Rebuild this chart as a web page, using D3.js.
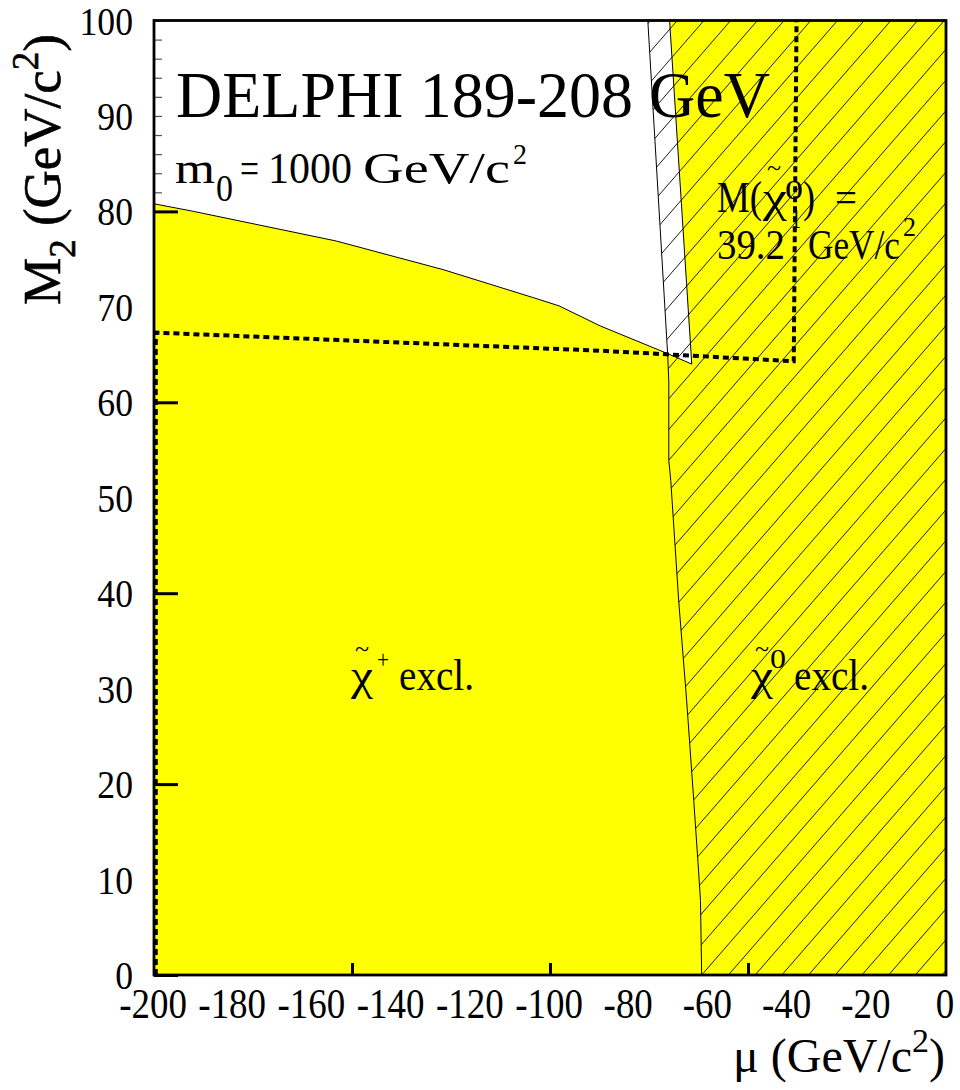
<!DOCTYPE html>
<html><head><meta charset="utf-8">
<script src="https://cdn.jsdelivr.net/npm/d3@7"></script>
<style>html,body{margin:0;padding:0;background:#fff}</style>
</head><body><svg id="c" width="960" height="1090"></svg>
<script>
// ---- data ----
const xTickValues = [-200,-180,-160,-140,-120,-100,-80,-60,-40,-20,0];
const yTickValues = [0,10,20,30,40,50,60,70,80,90,100];
const xMajorTicks = [-150,-100,-50];
const yMajorTicks = [0,20,40,60,80];
const yMinorTicks = d3.range(0,101,2);
// chargino exclusion boundary (mu, M2)
const charginoCurve = [[-200,80.8],[-190,80.0],[-154,76.9],[-127,73.9],[-104.5,71.0],[-97.7,70.1],[-87.3,68.0],[-70.3,65.1]];
const charginoStrip = [[-64.2,64.0],[-69.8,100]];
// neutralino exclusion boundary (mu, M2)
const neutralinoEdge = [[-75.3,100],[-70.3,65.1],[-70.0,62.2],[-70.0,53.9],[-69.5,51.8],[-67.5,39.2],[-65.5,28.8],[-63.7,18.3],[-62.5,11],[-62.0,7.8],[-61.7,0]];
// M(chi0_1) = 39.2 GeV/c2 contour
const massContour = [[-200,0],[-200,67.3],[-87.5,65.4],[-38.9,64.3],[-38.2,100]];

// ---- scales ----
const x = d3.scaleLinear().domain([-200,0]).range([154,946]);
const y = d3.scaleLinear().domain([0,100]).range([975,20.5]);
const svg = d3.select('#c');
const FONT = 'Liberation Serif, Times New Roman, serif';
const line = d3.line().x(d=>x(d[0])).y(d=>y(d[1]));

// minor ticks (under fills)
svg.append('g').attr('transform',`translate(${x(-200)},0)`)
  .call(d3.axisRight(y).tickValues(yMinorTicks).tickSize(8).tickFormat(''))
  .call(g=>{g.select('.domain').remove(); g.selectAll('line').attr('stroke','#555').attr('stroke-width',1.2);});

// chargino excluded region
const charPoly = [[-200,0]].concat(charginoCurve, charginoStrip, [[0,100],[0,0]]);
svg.append('path').attr('d', line(charPoly)+'Z').attr('fill','#ffff00');

// neutralino excluded region hatch
const neuPoly = neutralinoEdge.concat([[0,0],[0,100]]);
svg.append('clipPath').attr('id','neu').append('path').attr('d', line(neuPoly)+'Z');
const hatchSpacing = 26.7, tanA = 1.15, H = 1000;
const hx0 = d3.range(0,70).map(k=>942 - k*hatchSpacing);
svg.append('g').attr('clip-path','url(#neu)').selectAll('line').data(hx0).join('line')
  .attr('x1',d=>d).attr('y1',y(0)).attr('x2',d=>d+H/tanA).attr('y2',y(0)-H)
  .attr('stroke','#000').attr('stroke-width',0.9);

// boundary lines
svg.append('path').attr('d', line(charginoCurve.concat(charginoStrip))).attr('fill','none').attr('stroke','#000').attr('stroke-width',1);
svg.append('path').attr('d', line(neutralinoEdge)).attr('fill','none').attr('stroke','#000').attr('stroke-width',1);

// dashed mass contour
svg.append('path').attr('d', line(massContour)).attr('transform','translate(1.8,0)')
  .attr('fill','none').attr('stroke','#000').attr('stroke-width',4).attr('stroke-dasharray','6,4');

// major ticks
svg.append('g').attr('transform',`translate(${x(-200)},0)`)
  .call(d3.axisRight(y).tickValues(yMajorTicks).tickSize(24).tickFormat(''))
  .call(g=>{g.select('.domain').remove(); g.selectAll('line').attr('stroke','#000').attr('stroke-width',3);});
svg.append('g').attr('transform',`translate(0,${y(0)})`)
  .call(d3.axisTop(x).tickValues(xMajorTicks).tickSize(12).tickFormat(''))
  .call(g=>{g.select('.domain').remove(); g.selectAll('line').attr('stroke','#000').attr('stroke-width',3);});

// frame
svg.append('rect').attr('x',x(-200)).attr('y',y(100)).attr('width',x(0)-x(-200)).attr('height',y(0)-y(100))
  .attr('fill','none').attr('stroke','#000').attr('stroke-width',2.8);

// ---- text helper ----
function txt(px,py,str,size,opts={}){
  const sx = opts.sx||1;
  const t = svg.append('text').attr('transform',`translate(${px},${py}) scale(${sx},1)`)
    .attr('font-family',FONT).attr('font-size',size).attr('fill','#000')
    .attr('text-anchor',opts.anchor||'start');
  if (opts.w) t.attr('textLength',opts.w).attr('lengthAdjust','spacingAndGlyphs');
  t.text(str);
  return t;
}

// tick labels
xTickValues.forEach(v=>txt(x(v)-1, 1018, String(v), 42, {anchor:'middle', sx:0.88}));
yTickValues.forEach(v=>txt(133, y(v)+14, String(v), 41, {anchor:'end', sx:0.87}));

// axis titles
const yt = svg.append('text').attr('transform','translate(60,305) rotate(-90)')
  .attr('font-family',FONT).attr('font-size',53).attr('stroke','#000').attr('stroke-width',0.6);
yt.append('tspan').text('M');
yt.append('tspan').attr('dy',15).attr('font-size',37).text('2');
yt.append('tspan').attr('dy',-15).text(' (GeV/c');
yt.append('tspan').attr('dy',-22).attr('font-size',37).text('2');
yt.append('tspan').attr('dy',22).text(')');

const xt = svg.append('text').attr('transform','translate(945,1072)').attr('text-anchor','end')
  .attr('font-family',FONT).attr('font-size',48);
xt.append('tspan').text('μ (GeV/c');
xt.append('tspan').attr('dy',-20).attr('font-size',34).text('2');
xt.append('tspan').attr('dy',20).text(')');

// title texts
txt(176,117,'DELPHI 189-208 GeV',66,{w:594});
txt(175,183,'m',44,{w:40});
txt(216,201,'0',38,{w:17});
txt(240,183,'=',44,{w:19});
txt(268,183,'1000',44,{w:84});
txt(363,183,'GeV/c',44,{w:147});
txt(513,164,'2',30,{w:14});

// mass label
txt(717,212,'M(',44,{w:45});
txt(763,212,'χ',44,{w:24});
txt(774,176,'~',26,{anchor:'middle'});
txt(785,199,'0',28,{w:18});
txt(791,228,'1',28,{w:10});
txt(803,212,')',44,{w:12});
txt(835,212,'=',44,{w:22});
txt(717,259,'39.2',42,{w:68});
txt(808,259,'GeV/c',42,{w:92});
txt(903,236,'2',28,{w:13});

// region labels
txt(351,690,'χ',44,{w:22});
txt(362,657,'~',26,{anchor:'middle'});
txt(377,668,'+',26,{w:12});
txt(399,690,'excl.',44,{w:75});
txt(751,690,'χ',44,{w:22});
txt(762,657,'~',26,{anchor:'middle'});
txt(770,668,'0',28,{w:16});
txt(794,690,'excl.',44,{w:75});
</script></body></html>
